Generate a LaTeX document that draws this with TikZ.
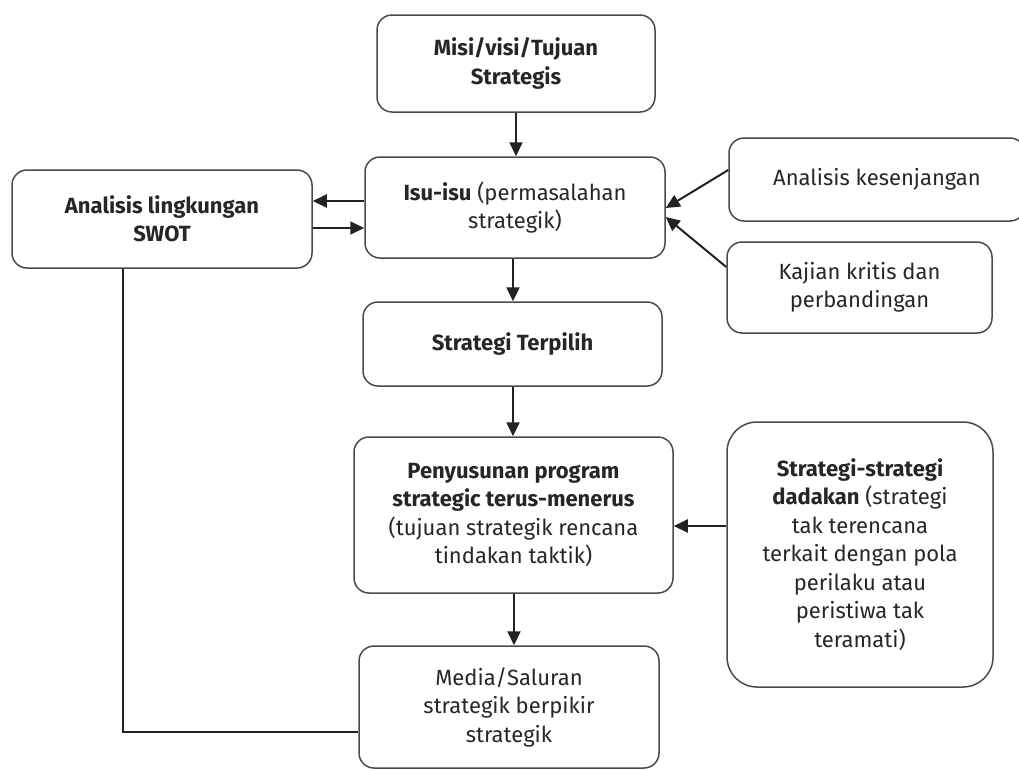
\documentclass[tikz,border=0pt]{standalone}
\usepackage{fontspec}
\setmainfont{Fira Sans}
\usetikzlibrary{arrows.meta}
\definecolor{boxline}{HTML}{4A4A4A}
\definecolor{ink}{HTML}{222222}
\definecolor{txt}{HTML}{262626}

\begin{document}
\begin{tikzpicture}[x=1pt,y=-1pt,
  box/.style={draw=boxline, line width=1.5pt, rounded corners=15pt, align=center,
    text=txt, inner sep=0pt, font=\fontsize{22}{28.5}\selectfont},
  boldbox/.style={box, font=\fontsize{22}{28.5}\selectfont\bfseries},
  bigbox/.style={box, rounded corners=30pt},
  arr/.style={draw=ink, line width=2pt, -{Triangle[length=14pt,width=13pt]}},
  link/.style={draw=ink, line width=1.5pt}]
\useasboundingbox (0,0) rectangle (1019,769);

% boxes
\node[boldbox, minimum width=278pt, minimum height=97pt] (misi) at (516,63.5)
  {Misi/visi/Tujuan\\Strategis};
\node[box, minimum width=300pt, minimum height=101pt] (isu) at (515,207.5)
  {\textbf{Isu-isu} (permasalahan\\strategik)};
\node[boldbox, minimum width=300pt, minimum height=98pt] (swot) at (162,219)
  {Analisis lingkungan\\SWOT};
\node[box, minimum width=296pt, minimum height=83pt] (gap) at (877,179.5)
  {Analisis kesenjangan};
\node[box, minimum width=265pt, minimum height=91pt] (kajian) at (859.5,287.5)
  {Kajian kritis dan\\perbandingan};
\node[boldbox, minimum width=299pt, minimum height=84pt] (pilih) at (512.5,344)
  {Strategi Terpilih};
\node[box, minimum width=319pt, minimum height=156pt] (program) at (513.5,515)
  {\textbf{Penyusunan program}\\\textbf{strategic terus-menerus}\\(tujuan strategik rencana\\tindakan taktik)};
\node[bigbox, minimum width=266pt, minimum height=265pt] (dadakan) at (860,554.5)
  {\textbf{Strategi-strategi}\\\textbf{dadakan} (strategi\\tak terencana\\terkait dengan pola\\perilaku atau\\peristiwa tak\\teramati)};
\node[box, minimum width=300pt, minimum height=122pt] (media) at (509,707)
  {Media/Saluran\\strategik berpikir\\strategik};

% main flow
\draw[arr] (misi.south -| 516,0) -- (isu.north -| 516,0);
\draw[arr] (isu.south -| 513,0) -- (pilih.north -| 513,0);
\draw[arr] (pilih.south -| 513,0) -- (program.north -| 513,0);
\draw[arr] (program.south -| 514,0) -- (media.north -| 514,0);

% exchange with the SWOT analysis
\draw[arr] (isu.west |- 0,201) -- (swot.east |- 0,201);
\draw[arr] (swot.east |- 0,228) -- (isu.west |- 0,228);

% inputs on the right
\draw[arr] (gap.west |- 0,170) -- (isu.east |- 0,208);
\draw[arr] (kajian.west |- 0,267) -- (isu.east |- 0,217);
\draw[arr] (dadakan.west |- 0,526) -- (program.east |- 0,526);

% SWOT feeds the media box
\coordinate (bend) at (123,732);
\draw[link] (swot.south -| bend) -- (bend) -- (media.west |- bend);
\end{tikzpicture}
\end{document}
